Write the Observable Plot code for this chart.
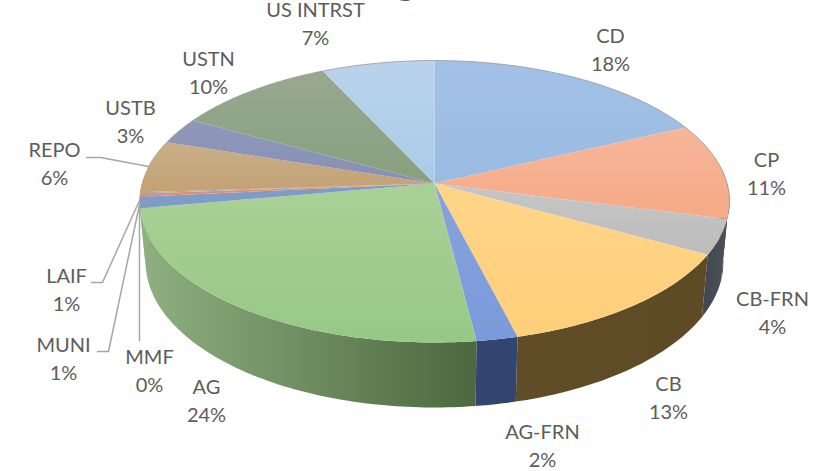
<!DOCTYPE html>
<html>
<head>
<meta charset="utf-8">
<script src="https://cdn.jsdelivr.net/npm/d3@7"></script>
<script src="https://cdn.jsdelivr.net/npm/@observablehq/plot@0.6"></script>
<style>html,body{margin:0;padding:0;background:#fff}svg{display:block}</style>
</head>
<body>
<div id="chart"></div>
<script>
// Data: categories, their printed percentages, and slice sizes
const categories = ["CD","CP","CB-FRN","CB","AG-FRN","AG","MMF","MUNI","LAIF","REPO","USTB","USTN","US INTRST"];
const labels     = ["18%","11%","4%","13%","2%","24%","0%","1%","1%","6%","3%","10%","7%"];
const shares     = [18,11,4,13,2,24.2,1.3,0.35,0.15,6,3,10,7];

// Colours
const topLight  = ["#a3c1e6","#f5b79a","#c6c6c6","#fed588","#86a3dc","#abd097","#7f9cc6","#dd8f78","#a8a8a8","#c8ae88","#8f98bb","#98a88f","#bad3ec"];
const topDeep   = ["#9abbe2","#f6a986","#bcbcbc","#fecf7a","#7b9adb","#96c984","#7f9cc6","#dd8f78","#a8a8a8","#c3a274","#878fb3","#88a07e","#a9cbe8"];
const sideLeft  = ["#4f6b8f","#4a3a34","#3f4750","#614c28","#33456f","#8fb081","#8fb081","#8fb081","#8fb081","#8fb081","#8fb081","#8fb081","#8fb081"];
const sideRight = ["#4f6b8f","#5a3a30","#4d5157","#5f4a26","#33456f","#4b683e","#8fb081","#8fb081","#8fb081","#8fb081","#8fb081","#8fb081","#8fb081"];

// Text placement (annotation layout)
const labelX = [610,766,772,668,542,206,149,63,66,54,130,208,315];
const labelY = [48,172,311,396,444,399,369,357,288,162,120,71,22];
const leaders = [
  {name:"REPO", xs:[86,100,148], ys:[157,157,166]},
  {name:"LAIF", xs:[91,102,139], ys:[282,282,200]},
  {name:"MUNI", xs:[97,108,139], ys:[351,351,204]},
  {name:"MMF",  xs:[139,139],    ys:[340,207]}
];

// Perspective view of the pie disc
const CX = 434, K = 0.1277;
const topDisc = {R:292.6, y0:183, a:-115.3};
const botDisc = {R:286.5, y0:243, a:-112};
const project = (deg, d, r = 1) => {
  const t = deg * Math.PI / 180, u = r * Math.sin(t), v = r * Math.cos(t), w = 1 + K * v;
  return {x: CX + d.R * u / w, y: (d.y0 + d.a * v) / w};
};

const total = d3.sum(shares);
let acc = 0;
const slices = shares.map((s, i) => {
  const a0 = acc / total * 360; acc += s;
  return {i, a0, a1: acc / total * 360};
});

// Arc sample points between two angles
const arc = (a0, a1, d) => {
  const n = Math.max(2, Math.ceil(Math.abs(a1 - a0)));
  return d3.range(n + 1).map(j => project(a0 + (a1 - a0) * j / n, d));
};

// Side wall of each slice on the visible front half
const wallPts = sl => {
  const lo = Math.max(sl.a0, 85), hi = Math.min(sl.a1, 275);
  return hi > lo ? [...arc(lo, hi, topDisc), ...arc(hi, lo, botDisc)] : [];
};
// Top face polygons
const facePts = sl => [project(0, topDisc, 0), ...arc(sl.a0, sl.a1, topDisc)];
const rim = d3.range(-84, 103, 2).map(a => project(a, topDisc));

const ns = "http://www.w3.org/2000/svg";
const gradient = (id, x2, y2, c0, c1) => {
  const g = document.createElementNS(ns, "linearGradient");
  g.setAttribute("id", id);
  g.setAttribute("x1", "0"); g.setAttribute("y1", "0");
  g.setAttribute("x2", x2); g.setAttribute("y2", y2);
  [[0, c0], [1, c1]].forEach(([o, c]) => {
    const st = document.createElementNS(ns, "stop");
    st.setAttribute("offset", o); st.setAttribute("stop-color", c);
    g.appendChild(st);
  });
  return g;
};
const gradients = () => {
  const defs = document.createElementNS(ns, "defs");
  slices.forEach(sl => {
    defs.appendChild(gradient("top" + sl.i, 0, 1, topLight[sl.i], topDeep[sl.i]));
    defs.appendChild(gradient("side" + sl.i, 1, 0, sideLeft[sl.i], sideRight[sl.i]));
  });
  return defs;
};

const labelRows = categories.map((c, i) => ({text: c + "\n" + labels[i], x: labelX[i], y: labelY[i]}));

const chart = Plot.plot({
  width: 831, height: 471,
  margin: 0,
  style: {background: "#fff", overflow: "hidden"},
  x: {domain: [0, 831], range: [0, 831], axis: null},
  y: {domain: [0, 471], range: [0, 471], axis: null},
  marks: [
    gradients,
    ...slices.map(sl => Plot.line(wallPts(sl), {x: "x", y: "y", fill: `url(#side${sl.i})`, stroke: "none", curve: "linear-closed"})),
    ...slices.map(sl => Plot.line(facePts(sl), {x: "x", y: "y", fill: `url(#top${sl.i})`, stroke: "none", curve: "linear-closed"})),
    Plot.line(rim, {x: "x", y: "y", stroke: "#9a9a9a", strokeWidth: 1, strokeOpacity: 0.8}),
    ...leaders.map(l => Plot.line(l.xs.map((x, j) => ({x, y: l.ys[j]})), {x: "x", y: "y", stroke: "#a6a6a6", strokeWidth: 1.5})),
    Plot.text(labelRows, {x: "x", y: "y", text: "text", fontSize: 20, lineHeight: 1.4, fill: "#5c5c5c", fontFamily: "Lato"}),
    Plot.text(["g"], {x: () => 405, y: () => -19, text: d => d, fontSize: 40, fill: "#595959", fontFamily: "Lato"})
  ]
});
document.getElementById("chart").appendChild(chart);
</script>
</body>
</html>
